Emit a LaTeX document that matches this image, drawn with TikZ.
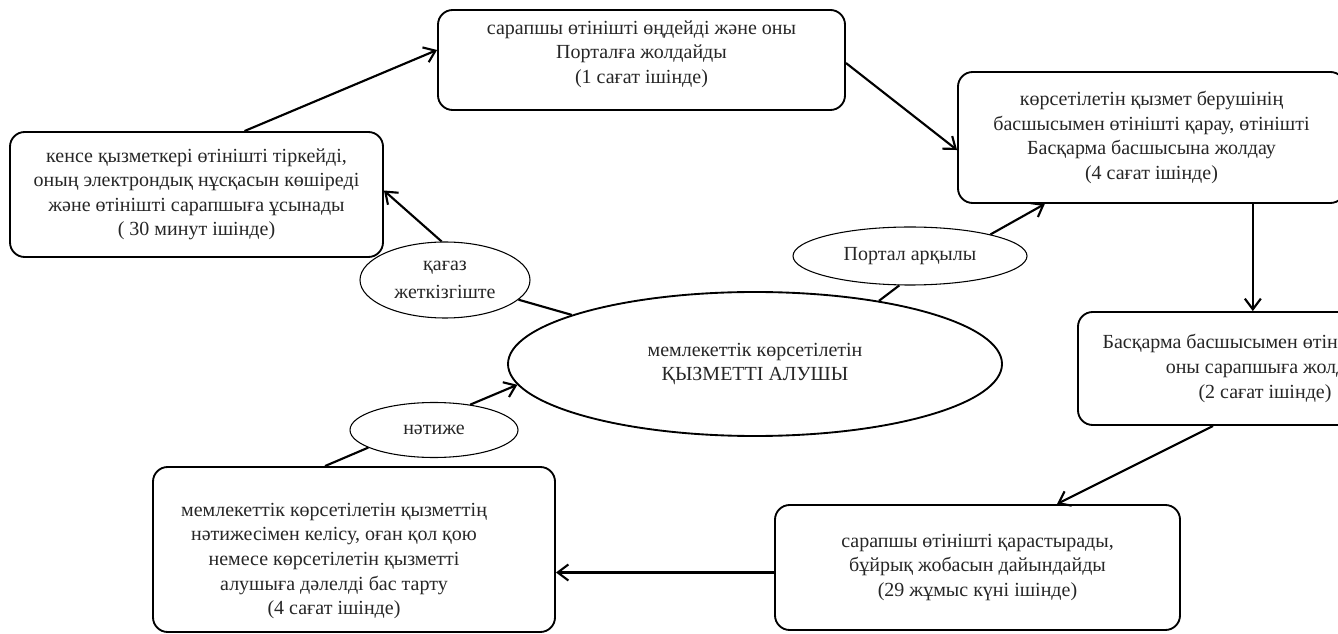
\documentclass[tikz,border=0pt]{standalone}
\usepackage{fontspec}
\setmainfont{Liberation Serif}
\usetikzlibrary{shapes.geometric}
\usetikzlibrary{arrows.meta}

\tikzset{
  qadam/.style={draw, line width=1.4pt, rounded corners=11pt, inner sep=0pt, align=center,
    text=black!85, font=\fontsize{15}{18.4}\selectfont},
  matin/.style={inner sep=0pt, align=center, text=black!85, font=\fontsize{15}{18.4}\selectfont},
  sopaq/.style={draw, ellipse, line width=0.8pt, inner sep=0pt, align=center,
    text=black!85, font=\fontsize{15}{18.4}\selectfont},
  baghyt/.style={-{Straight Barb[length=8pt,width=12pt,line width=1.6pt]}, line width=1.6pt},
  baylanys/.style={line width=1.6pt}
}

\begin{document}
\begin{tikzpicture}[x=0.75pt,y=0.75pt,yscale=-1,xscale=1]
\useasboundingbox (0,0) rectangle (1338,634);
\clip (0,0) rectangle (1338,634);

%Rounded Rect: kense
\node [qadam, minimum width=279.75pt, minimum height=93.75pt] (qabyldau) at (196.5,194.5)
  {кенсе қызметкері өтінішті тіркейді,\\оның электрондық нұсқасын көшіреді\\және өтінішті сарапшыға ұсынады\\( 30 минут ішінде)};
%Rounded Rect: sarapshy 1
\node [qadam, minimum width=305.25pt, minimum height=75pt] (ondeu) at (641.5,60)
  {сарапшы өтінішті өңдейді және оны\\Порталға жолдайды\\(1 сағат ішінде)\\[-6pt]};
%Rounded Rect: basshy
\node [qadam, minimum width=290.25pt, minimum height=98.25pt] (qarau) at (1151.5,137.5)
  {көрсетілетін қызмет берушінің\\басшысымен өтінішті қарау, өтінішті\\Басқарма басшысына жолдау\\(4 сағат ішінде)};
%Rounded Rect: baskarma
\node [qadam, minimum width=280.5pt, minimum height=84.75pt] (jiberu) at (1265,368.5)
  {Басқарма басшысымен өтінішті қарау,\\оны сарапшыға жолдау\\(2 сағат ішінде)};
%Rounded Rect: sarapshy 2
\node [qadam, minimum width=303.75pt, minimum height=93.75pt] (dayyndau) at (977.5,567.5)
  {сарапшы өтінішті қарастырады,\\бұйрық жобасын дайындайды\\(29 жұмыс күні ішінде)};
%Rounded Rect: natije
\node [qadam, minimum width=301.5pt, minimum height=123.75pt] (kelisu) at (354,549.5) {};
\node [matin] (kelisuMatin) at (334,561)
  {мемлекеттік көрсетілетін қызметтің\\нәтижесімен келісу, оған қол қою\\немесе көрсетілетін қызметті\\алушыға дәлелді бас тарту\\(4 сағат ішінде)};

%Ellipses
\node [sopaq, line width=1.4pt, minimum width=370.5pt, minimum height=108pt] (alushy) at (755,364)
  {мемлекеттік көрсетілетін\\ҚЫЗМЕТТІ АЛУШЫ};
\node [sopaq, minimum width=127.5pt, minimum height=57pt] (qagaz) at (445,280)
  {қағаз\\[3pt]жеткізгіште};
\node [sopaq, minimum width=175.5pt, minimum height=43.5pt] (portal) at (910,256)
  {Портал арқылы};
\node [sopaq, minimum width=126pt, minimum height=41.25pt] (natije) at (434,430)
  {нәтиже};

%Connectors
\draw [baghyt] ([xshift=36pt]qabyldau.north) -- ([yshift=-7.5pt]ondeu.west);
\draw [baghyt] ([yshift=2.25pt]ondeu.east) -- ([yshift=9.4pt]qarau.west);
\draw [baghyt] ([xshift=76pt]qarau.south) -- ([xshift=76pt]qarau.south |- jiberu.north);
\draw [baghyt] ([xshift=-39pt]jiberu.south) -- ([xshift=59.6pt]dayyndau.north);
\draw [baghyt] ([yshift=3.75pt]dayyndau.west) -- ([yshift=3.75pt]dayyndau.west -| kelisu.east);

\draw [baylanys] ([xshift=-21.75pt]kelisu.north) -- (natije.195);
\draw [baghyt] (natije.35) -- (alushy.185);

\draw [baylanys] (alushy.165) -- (qagaz.-15);
\draw [baghyt] (qagaz.95) -- ([yshift=-3pt]qabyldau.east);

\draw [baylanys] (alushy.27) -- (portal.250);
\draw [baghyt] (portal.15) -- ([xshift=-80pt]qarau.south);

\end{tikzpicture}
\end{document}
